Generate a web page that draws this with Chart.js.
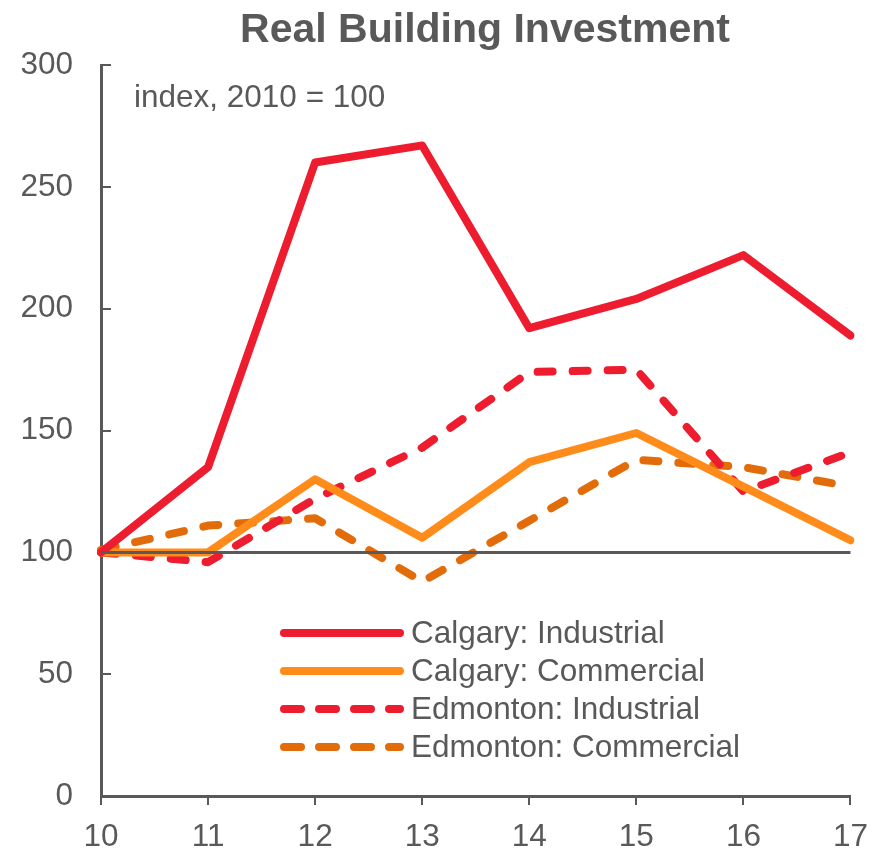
<!DOCTYPE html>
<html>
<head>
<meta charset="utf-8">
<script src="https://cdn.jsdelivr.net/npm/chart.js@4/dist/chart.umd.min.js"></script>
<style>
  html, body { margin: 0; padding: 0; background: #fff; }
  canvas { display: block; }
</style>
</head>
<body>
<canvas id="chart" width="881" height="853"></canvas>
<script>
// years (2010..2017), index 2010 = 100
const years = ['10', '11', '12', '13', '14', '15', '16', '17'];
const calgaryIndustrial = [100, 135, 260, 267, 192, 204, 222, 189];
const calgaryCommercial = [100, 100, 130, 106, 137, 149, 127, 105];
const edmontonIndustrial = [100, 96, 122, 143, 174, 175, 125, 141];
const edmontonCommercial = [101, 111, 114, 88, 113, 138, 135, 127];
const baseline = [100, 100, 100, 100, 100, 100, 100, 100];
const yTicks = [0, 50, 100, 150, 200, 250, 300];

const GREY = '#595959';
const RED = '#ED1C2E';
const ORANGE = '#FF8C1A';
const DARK_ORANGE = '#E36C0A';
const FONT = "'Liberation Sans', Arial, sans-serif";

const line = (label, data, color, dash) => ({
    label,
    data,
    borderColor: color,
    backgroundColor: color,
    borderWidth: 8,
    borderDash: dash || [],
    borderCapStyle: 'round',
    borderJoinStyle: 'round',
    pointRadius: 0,
    tension: 0,
    fill: false
});

// title, note and legend drawn on the canvas
const extras = {
    id: 'extras',
    afterDraw(chart) {
        const ctx = chart.ctx;
        ctx.save();
        ctx.fillStyle = GREY;
        ctx.font = 'bold 41px ' + FONT;
        ctx.textAlign = 'center';
        ctx.textBaseline = 'alphabetic';
        ctx.fillText('Real Building Investment', 485, 42);

        ctx.font = '31.5px ' + FONT;
        ctx.textAlign = 'left';
        ctx.textBaseline = 'middle';
        ctx.fillText('index, 2010 = 100', 134, 98);

        chart.data.datasets.slice(1).forEach((ds, i) => {
            const y = 633 + i * 38;
            ctx.beginPath();
            ctx.strokeStyle = ds.borderColor;
            ctx.lineWidth = 8;
            ctx.lineCap = 'round';
            ctx.setLineDash(ds.borderDash.length ? [17, 18] : []);
            ctx.moveTo(284, y);
            ctx.lineTo(400, y);
            ctx.stroke();
            ctx.setLineDash([]);
            ctx.fillStyle = GREY;
            ctx.fillText(ds.label, 411, y + 1);
        });
        ctx.restore();
    }
};

new Chart(document.getElementById('chart'), {
    type: 'line',
    data: {
        labels: years,
        datasets: [
            {
                label: 'baseline',
                data: baseline,
                borderColor: GREY,
                borderWidth: 3,
                pointRadius: 0,
                fill: false
            },
            line('Calgary: Industrial', calgaryIndustrial, RED),
            line('Calgary: Commercial', calgaryCommercial, ORANGE),
            line('Edmonton: Industrial', edmontonIndustrial, RED, [15, 20]),
            line('Edmonton: Commercial', edmontonCommercial, DARK_ORANGE, [15, 20])
        ]
    },
    options: {
        responsive: false,
        animation: false,
        devicePixelRatio: 1,
        layout: { padding: { top: 65, right: 30, left: 0, bottom: 0 } },
        plugins: {
            legend: { display: false },
            title: { display: false },
            tooltip: { enabled: false }
        },
        scales: {
            x: {
                offset: false,
                afterFit: (s) => { s.height = 54; },
                border: { display: true, color: GREY, width: 3 },
                grid: {
                    drawOnChartArea: false,
                    drawTicks: true,
                    tickLength: 9,
                    color: GREY,
                    lineWidth: 2
                },
                ticks: {
                    color: GREY,
                    font: { family: FONT, size: 31.5 },
                    padding: 13,
                    maxRotation: 0,
                    autoSkip: false
                }
            },
            y: {
                min: 0,
                max: 300,
                afterFit: (s) => { s.width = 101; },
                afterBuildTicks: (s) => { s.ticks = yTicks.map(v => ({ value: v })); },
                border: { display: true, color: GREY, width: 3 },
                grid: {
                    drawOnChartArea: false,
                    drawTicks: true,
                    tickLength: -10,
                    color: GREY,
                    lineWidth: 2
                },
                ticks: {
                    color: GREY,
                    font: { family: FONT, size: 31.5 },
                    padding: 38
                }
            }
        }
    },
    plugins: [extras]
});
</script>
</body>
</html>
